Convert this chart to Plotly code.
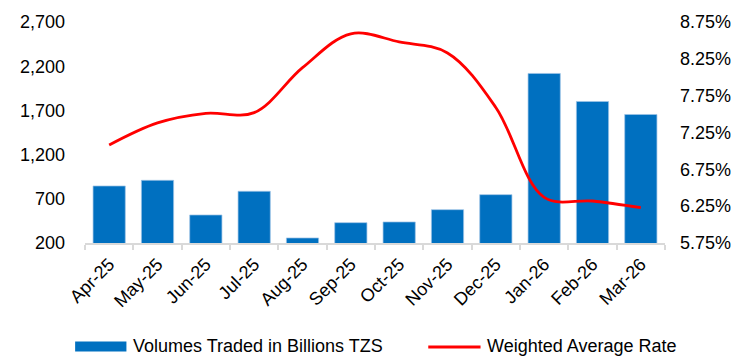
import plotly.graph_objects as go

months = ["Apr-25", "May-25", "Jun-25", "Jul-25", "Aug-25", "Sep-25",
          "Oct-25", "Nov-25", "Dec-25", "Jan-26", "Feb-26", "Mar-26"]
volumes = [845, 909, 517, 785, 257, 430, 438, 577, 747, 2118, 1801, 1654]
rates = [7.08, 7.38, 7.51, 7.52, 8.13, 8.59, 8.48, 8.33, 7.59, 6.37, 6.32, 6.23]

vol_name = "Volumes Traded in Billions TZS"
rate_name = "Weighted Average Rate"

FONT = "Liberation Sans, Arial, sans-serif"
BLUE = "#0070C0"
RED = "#FF0000"

fig = go.Figure()
fig.add_trace(go.Bar(
    x=months, y=volumes, name=vol_name,
    marker=dict(color=BLUE, line=dict(color="rgba(157,195,230,0.9)", width=0.8)),
    yaxis="y", showlegend=False,
))
fig.add_trace(go.Scatter(
    x=months, y=rates, name=rate_name, mode="lines",
    line=dict(color=RED, width=2.8, shape="spline", smoothing=1.0),
    yaxis="y2", showlegend=False,
))

W, H = 743, 356
ml, mr, mt, mb = 85, 70, 21, 113
pw, ph = W - ml - mr, H - mt - mb


def px_x(p):
    return (p - ml) / pw


def px_y(p):
    return (H - mb - p) / ph


shapes = [
    dict(type="rect", xref="paper", yref="paper",
         x0=px_x(75), x1=px_x(127), y0=px_y(352), y1=px_y(342),
         fillcolor=BLUE, line=dict(width=0)),
    dict(type="line", xref="paper", yref="paper",
         x0=px_x(433), x1=px_x(486), y0=px_y(347.5), y1=px_y(347.5),
         line=dict(color=RED, width=3)),
]
annotations = [
    dict(text=vol_name, xref="paper", yref="paper", x=px_x(132), y=px_y(346),
         xanchor="left", yanchor="middle", showarrow=False,
         font=dict(family=FONT, size=18, color="#000000")),
    dict(text=rate_name, xref="paper", yref="paper", x=px_x(491), y=px_y(346),
         xanchor="left", yanchor="middle", showarrow=False,
         font=dict(family=FONT, size=18, color="#000000")),
]

fig.update_layout(
    width=W, height=H,
    margin=dict(l=ml, r=mr, t=mt, b=mb, pad=0),
    paper_bgcolor="white", plot_bgcolor="white",
    font=dict(family=FONT, size=18, color="#000000"),
    bargap=0.333,
    shapes=shapes, annotations=annotations,
    xaxis=dict(
        type="category", showline=True, linecolor="#d9d9d9", linewidth=1.5,
        ticks="outside", tickson="boundaries", ticklen=5, tickcolor="#d9d9d9",
        tickwidth=1.5, tickangle=-45, showgrid=False, zeroline=False,
        ticklabelstandoff=2,
        tickfont=dict(family=FONT, size=18, color="#000000"),
    ),
    yaxis=dict(
        range=[200, 2700], tick0=200, dtick=500, tickformat=",",
        showgrid=False, zeroline=False, showline=False, ticks="",
        ticklabelstandoff=19,
        tickfont=dict(family=FONT, size=18, color="#000000"),
    ),
    yaxis2=dict(
        range=[5.75, 8.75], tick0=5.75, dtick=0.5, tickformat=".2f", ticksuffix="%",
        overlaying="y", side="right",
        showgrid=False, zeroline=False, showline=False, ticks="",
        ticklabelstandoff=14,
        tickfont=dict(family=FONT, size=18, color="#000000"),
    ),
)

fig.write_html("out.html")
